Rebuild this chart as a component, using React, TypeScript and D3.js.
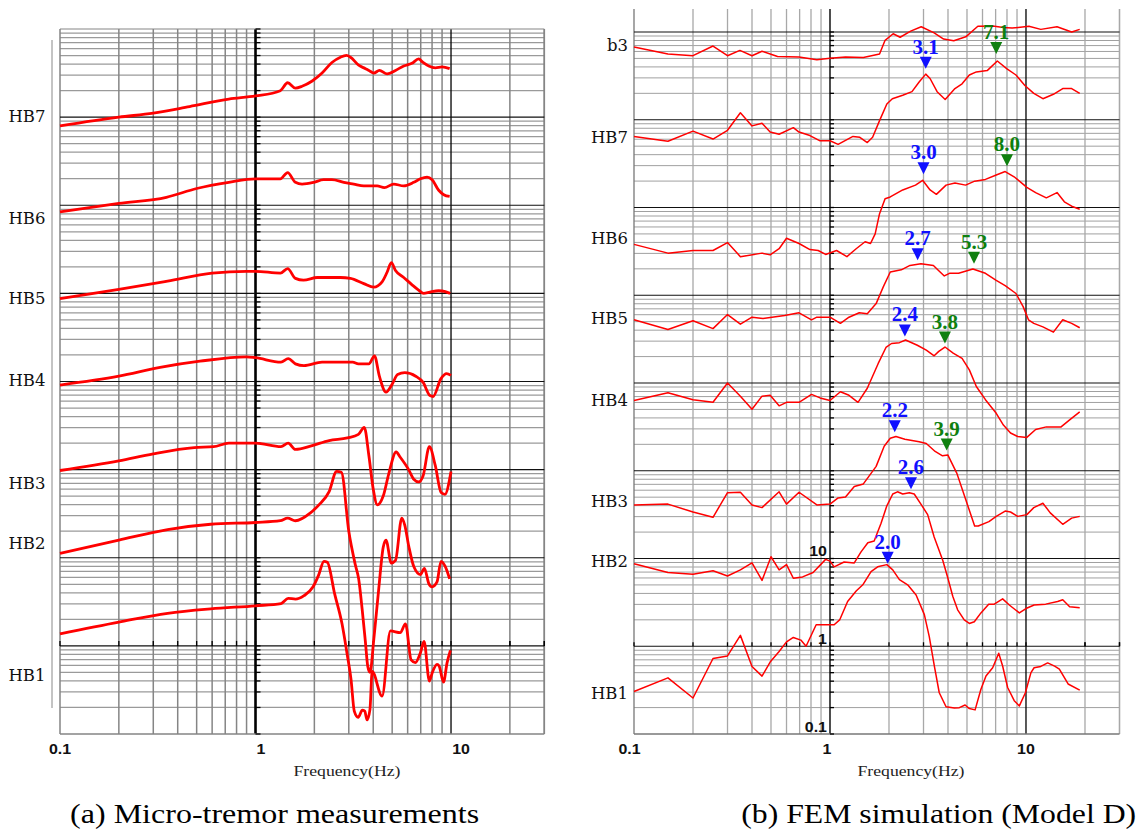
import React from "react";
import * as d3 from "d3";

// each point: [frequency (Hz), log10 of the plotted H/V amplitude]
type Pt = [number, number];

const freqTicks = [0.1, 1, 10];
const freqTickLabels = ["0.1", "1", "10"];
const ampTicksB = [10, 1, 0.1];
const ampTickLabelsB = ["10", "1", "0.1"];

const stationsA = ["HB7", "HB6", "HB5", "HB4", "HB3", "HB2", "HB1"];
const labelLevelA = [6.01, 4.86, 3.95, 3.02, 1.85, 1.17, -0.33];
const stationsB = ["b3", "HB7", "HB6", "HB5", "HB4", "HB3", "HB2", "HB1"];
const labelLevelB = [6.85, 5.8, 4.65, 3.74, 2.81, 1.65, 0.97, -0.53];

// (a) micro-tremor measurements
const aHB7: Pt[] = [[0.1, 5.9], [0.2, 6.0], [0.3, 6.045], [0.46, 6.12], [0.73, 6.205], [1.0, 6.24], [1.34, 6.3], [1.46, 6.39], [1.6, 6.33], [1.73, 6.35], [1.95, 6.41], [2.19, 6.5], [2.46, 6.62], [2.72, 6.68], [2.92, 6.7], [3.06, 6.68], [3.37, 6.59], [3.65, 6.55], [3.8, 6.53], [4.03, 6.5], [4.3, 6.53], [4.71, 6.49], [5.2, 6.53], [5.73, 6.58], [6.31, 6.61], [6.83, 6.66], [7.19, 6.62], [7.69, 6.58], [8.32, 6.56], [9.0, 6.57], [9.84, 6.55]];
const aHB6: Pt[] = [[0.1, 4.925], [0.2, 5.02], [0.35, 5.09], [0.5, 5.19], [0.73, 5.26], [1.0, 5.3], [1.34, 5.3], [1.46, 5.37], [1.6, 5.26], [1.73, 5.24], [1.99, 5.26], [2.23, 5.29], [2.46, 5.29], [2.83, 5.26], [3.18, 5.24], [3.58, 5.22], [4.19, 5.22], [4.56, 5.2], [5.09, 5.24], [5.73, 5.22], [6.45, 5.26], [6.97, 5.3], [7.54, 5.32], [8.0, 5.29], [8.65, 5.17], [9.18, 5.12], [9.84, 5.1]];
const aHB5: Pt[] = [[0.1, 3.94], [0.2, 4.045], [0.355, 4.14], [0.6, 4.23], [0.9, 4.25], [1.0, 4.25], [1.34, 4.23], [1.46, 4.28], [1.6, 4.17], [1.76, 4.15], [2.07, 4.18], [2.72, 4.18], [3.06, 4.17], [3.58, 4.11], [4.03, 4.07], [4.44, 4.13], [4.71, 4.24], [4.95, 4.35], [5.2, 4.26], [5.73, 4.18], [6.3, 4.1], [6.8, 4.04], [7.25, 4.0], [7.8, 4.015], [8.65, 4.03], [9.35, 4.02], [9.9, 4.0]];
const aHB4: Pt[] = [[0.1, 2.96], [0.2, 3.06], [0.325, 3.16], [0.52, 3.23], [0.9, 3.28], [1.0, 3.27], [1.35, 3.22], [1.47, 3.26], [1.6, 3.2], [1.77, 3.18], [2.19, 3.22], [3.14, 3.22], [3.36, 3.2], [3.8, 3.2], [4.06, 3.29], [4.3, 3.06], [4.65, 2.88], [5.0, 2.97], [5.33, 3.08], [5.8, 3.1], [6.6, 3.06], [7.2, 2.99], [7.8, 2.84], [8.1, 2.83], [8.87, 3.03], [9.5, 3.09], [10, 3.07]];
const aHB3: Pt[] = [[0.1, 1.99], [0.2, 2.1], [0.3, 2.18], [0.486, 2.25], [0.61, 2.26], [0.73, 2.3], [1.0, 2.3], [1.35, 2.26], [1.47, 2.3], [1.6, 2.23], [1.93, 2.27], [2.38, 2.33], [2.95, 2.36], [3.36, 2.4], [3.6, 2.48], [3.8, 2.16], [4.0, 1.78], [4.2, 1.6], [4.5, 1.7], [4.8, 1.95], [5.24, 2.2], [5.5, 2.14], [6.07, 2.0], [6.45, 1.89], [6.83, 1.86], [7.2, 1.93], [7.75, 2.26], [8.3, 2.05], [8.9, 1.74], [9.3, 1.72], [10, 1.98]];
const aHB2: Pt[] = [[0.1, 1.05], [0.2, 1.2], [0.355, 1.32], [0.59, 1.38], [1.0, 1.4], [1.34, 1.42], [1.46, 1.45], [1.6, 1.42], [1.91, 1.51], [2.11, 1.6], [2.38, 1.75], [2.6, 1.98], [2.75, 1.97], [3.0, 1.3], [3.24, 0.92], [3.37, 0.76], [3.51, 0.42], [3.65, 0.04], [3.75, -0.23], [3.85, -0.3], [4.03, 0.08], [4.27, 0.65], [4.5, 1.12], [4.65, 1.2], [4.95, 0.94], [5.2, 0.97], [5.6, 1.45], [5.8, 1.37], [6.08, 1.13], [6.45, 0.9], [6.97, 0.81], [7.31, 0.88], [7.69, 0.71], [8.0, 0.67], [8.48, 0.725], [8.89, 0.96], [9.35, 0.9], [9.84, 0.76]];
const aHB1: Pt[] = [[0.1, 0.137], [0.2, 0.27], [0.355, 0.37], [0.59, 0.42], [1.0, 0.455], [1.35, 0.48], [1.47, 0.54], [1.6, 0.53], [1.77, 0.57], [1.97, 0.67], [2.1, 0.8], [2.24, 0.96], [2.33, 0.95], [2.54, 0.59], [2.77, 0.25], [2.95, -0.11], [3.08, -0.38], [3.2, -0.74], [3.35, -0.81], [3.52, -0.73], [3.62, -0.74], [3.72, -0.84], [3.85, -0.72], [3.95, -0.29], [4.44, -0.57], [4.9, 0.17], [5.5, 0.15], [5.85, 0.25], [6.25, -0.16], [6.57, -0.19], [6.97, -0.08], [7.28, 0.05], [7.75, -0.4], [8.0, -0.31], [8.48, -0.21], [8.7, -0.23], [9.15, -0.41], [9.55, -0.19], [9.93, -0.05]];

// (b) FEM simulation (Model D)
const bB3: Pt[] = [[0.1, 6.83], [0.149, 6.75], [0.2, 6.73], [0.253, 6.84], [0.3, 6.73], [0.347, 6.79], [0.4, 6.73], [0.45, 6.78], [0.54, 6.72], [0.695, 6.715], [0.857, 6.685], [1.0, 6.7], [1.2, 6.715], [1.48, 6.71], [1.79, 6.75], [1.91, 6.905], [2.1, 6.98], [2.28, 6.94], [2.58, 7.01], [2.92, 7.06], [3.4, 6.99], [3.8, 6.92], [4.28, 6.9], [4.93, 6.945], [5.68, 7.065], [6.76, 7.068], [7.67, 7.05], [8.5, 7.045], [10.35, 7.065], [11.9, 7.03], [14.4, 7.06], [17.1, 7.0], [18.8, 7.03]];
const bHB7: Pt[] = [[0.1, 5.81], [0.149, 5.755], [0.2, 5.87], [0.253, 5.78], [0.3, 5.88], [0.349, 6.08], [0.4, 5.93], [0.45, 5.96], [0.495, 5.86], [0.55, 5.835], [0.65, 5.91], [0.695, 5.86], [0.79, 5.82], [0.89, 5.76], [1.0, 5.76], [1.1, 5.72], [1.31, 5.81], [1.42, 5.8], [1.55, 5.74], [1.65, 5.8], [1.79, 5.99], [1.95, 6.18], [2.08, 6.24], [2.35, 6.28], [2.62, 6.32], [2.85, 6.43], [3.08, 6.52], [3.24, 6.47], [3.52, 6.32], [3.87, 6.23], [4.34, 6.355], [4.72, 6.41], [5.14, 6.51], [5.58, 6.545], [6.34, 6.56], [7.14, 6.67], [8.0, 6.58], [8.89, 6.51], [9.87, 6.39], [10.96, 6.3], [12.2, 6.24], [13.8, 6.29], [15.4, 6.355], [17.1, 6.355], [18.8, 6.3]];
const bHB6: Pt[] = [[0.1, 4.58], [0.149, 4.48], [0.2, 4.51], [0.253, 4.51], [0.3, 4.6], [0.349, 4.44], [0.45, 4.48], [0.495, 4.46], [0.55, 4.53], [0.6, 4.65], [0.695, 4.59], [0.79, 4.52], [0.87, 4.51], [0.95, 4.465], [1.08, 4.51], [1.22, 4.44], [1.36, 4.53], [1.51, 4.61], [1.61, 4.59], [1.7, 4.7], [1.79, 4.93], [1.91, 5.1], [2.03, 5.12], [2.35, 5.2], [2.73, 5.255], [2.97, 5.31], [3.24, 5.2], [3.49, 5.15], [3.91, 5.255], [4.34, 5.28], [4.92, 5.255], [5.47, 5.3], [6.21, 5.32], [7.05, 5.37], [7.83, 5.41], [8.7, 5.35], [10.1, 5.23], [11.2, 5.17], [12.7, 5.11], [14.4, 5.17], [15.7, 5.065], [17.1, 5.015], [18.8, 4.98]];
const bHB5: Pt[] = [[0.1, 3.72], [0.149, 3.61], [0.2, 3.71], [0.253, 3.62], [0.3, 3.78], [0.349, 3.67], [0.4, 3.75], [0.455, 3.735], [0.587, 3.77], [0.695, 3.8], [0.805, 3.72], [0.857, 3.75], [1.0, 3.75], [1.13, 3.68], [1.25, 3.75], [1.41, 3.8], [1.55, 3.79], [1.72, 3.905], [1.87, 4.095], [2.03, 4.265], [2.31, 4.29], [2.56, 4.34], [2.91, 4.36], [3.37, 4.34], [3.59, 4.28], [3.83, 4.22], [4.07, 4.25], [4.53, 4.25], [5.36, 4.3], [6.21, 4.25], [7.05, 4.17], [7.83, 4.11], [8.89, 4.02], [9.67, 3.87], [10.3, 3.72], [10.96, 3.68], [12.2, 3.64], [13.8, 3.58], [15.4, 3.72], [17.1, 3.68], [18.8, 3.63]];
const bHB4: Pt[] = [[0.1, 2.8], [0.149, 2.89], [0.2, 2.81], [0.253, 2.78], [0.3, 3.0], [0.349, 2.85], [0.4, 2.7], [0.45, 2.85], [0.495, 2.86], [0.55, 2.74], [0.6, 2.78], [0.695, 2.78], [0.805, 2.87], [0.89, 2.83], [1.0, 2.8], [1.13, 2.9], [1.25, 2.86], [1.39, 2.78], [1.55, 2.94], [1.76, 3.22], [1.93, 3.405], [2.06, 3.45], [2.26, 3.46], [2.43, 3.49], [2.79, 3.43], [3.1, 3.375], [3.4, 3.31], [3.59, 3.36], [3.86, 3.41], [4.25, 3.34], [4.72, 3.28], [5.14, 3.15], [5.58, 2.96], [6.21, 2.81], [7.05, 2.655], [7.67, 2.52], [8.34, 2.43], [9.07, 2.39], [10.1, 2.38], [11.2, 2.47], [12.7, 2.5], [15.1, 2.5], [16.7, 2.58], [18.8, 2.67]];
const bHB3: Pt[] = [[0.1, 1.61], [0.149, 1.62], [0.2, 1.53], [0.253, 1.47], [0.3, 1.75], [0.349, 1.755], [0.4, 1.61], [0.45, 1.58], [0.55, 1.76], [0.6, 1.62], [0.695, 1.755], [0.857, 1.61], [1.0, 1.62], [1.1, 1.69], [1.2, 1.7], [1.33, 1.82], [1.48, 1.85], [1.72, 2.05], [1.89, 2.28], [2.03, 2.37], [2.17, 2.39], [2.41, 2.36], [2.85, 2.33], [3.1, 2.31], [3.44, 2.22], [3.75, 2.17], [3.99, 2.18], [4.44, 1.97], [4.93, 1.67], [5.47, 1.37], [5.71, 1.37], [6.47, 1.42], [7.05, 1.48], [7.83, 1.54], [8.34, 1.53], [9.07, 1.48], [10.1, 1.5], [10.96, 1.58], [12.2, 1.63], [13.3, 1.52], [15.4, 1.39], [17.1, 1.46], [18.8, 1.48]];
const bHB2: Pt[] = [[0.1, 0.94], [0.149, 0.84], [0.2, 0.82], [0.253, 0.86], [0.3, 0.8], [0.349, 0.87], [0.4, 0.95], [0.45, 0.75], [0.5, 1.02], [0.55, 0.87], [0.6, 0.93], [0.65, 0.775], [0.725, 0.79], [0.82, 0.84], [0.95, 0.99], [1.0, 0.97], [1.05, 0.905], [1.18, 0.96], [1.33, 0.95], [1.44, 1.075], [1.56, 1.18], [1.68, 1.2], [1.82, 1.4], [1.95, 1.6], [2.09, 1.735], [2.21, 1.76], [2.35, 1.735], [2.54, 1.75], [2.69, 1.735], [2.91, 1.62], [3.15, 1.5], [3.4, 1.245], [3.76, 0.98], [3.98, 0.79], [4.23, 0.57], [4.48, 0.415], [4.84, 0.3], [5.14, 0.26], [5.45, 0.28], [5.89, 0.38], [6.45, 0.48], [6.89, 0.48], [7.6, 0.54], [8.22, 0.47], [9.25, 0.38], [10, 0.43], [11.0, 0.47], [12.6, 0.48], [14.5, 0.51], [15.4, 0.53], [16.7, 0.45], [18.8, 0.44]];
const bHB1: Pt[] = [[0.1, -0.515], [0.149, -0.36], [0.2, -0.59], [0.253, -0.14], [0.3, -0.11], [0.349, 0.124], [0.4, -0.23], [0.45, -0.34], [0.495, -0.18], [0.55, -0.06], [0.6, 0.05], [0.65, 0.1], [0.71, 0.07], [0.755, 0.0], [0.85, 0.245], [1.05, 0.245], [1.12, 0.3], [1.23, 0.51], [1.36, 0.63], [1.47, 0.7], [1.62, 0.85], [1.75, 0.905], [1.95, 0.93], [2.09, 0.87], [2.26, 0.76], [2.49, 0.7], [2.75, 0.585], [3.03, 0.36], [3.21, 0.11], [3.41, -0.23], [3.61, -0.53], [3.91, -0.69], [4.31, -0.705], [4.57, -0.7], [4.89, -0.67], [5.14, -0.71], [5.5, -0.725], [5.89, -0.49], [6.25, -0.34], [6.76, -0.245], [7.26, -0.08], [7.6, -0.225], [8.06, -0.47], [8.71, -0.62], [9.25, -0.68], [9.93, -0.53], [10.6, -0.3], [11.0, -0.245], [11.9, -0.23], [12.9, -0.19], [14.0, -0.226], [14.8, -0.26], [16.4, -0.43], [18.8, -0.5]];

const curvesA = [aHB7, aHB6, aHB5, aHB4, aHB3, aHB2, aHB1];
const curvesB = [bB3, bHB7, bHB6, bHB5, bHB4, bHB3, bHB2, bHB1];

// picked peaks in (b): label, frequency, log10 amplitude of the arrow tip, kind
const peakLabels = ["3.1", "7.1", "3.0", "8.0", "2.7", "5.3", "2.4", "3.8", "2.2", "3.9", "2.6", "2.0"];
const peakFreqs = [3.08, 7.05, 3.0, 8.0, 2.8, 5.43, 2.41, 3.86, 2.14, 3.94, 2.59, 1.97];
const peakLevels = [6.58, 6.75, 5.38, 5.47, 4.4, 4.36, 3.53, 3.45, 2.44, 2.23, 1.79, 0.94];
const peakKinds = ["p", "s", "p", "s", "p", "s", "p", "s", "p", "s", "p", "p"];

const BLUE = "#1010ff";
const GREEN = "#0f800f";
const SX = 1.14; // the source figure's lettering is slightly stretched sideways

const minorValues = d3.range(-1, 7).flatMap((k) => d3.range(2, 10).map((m) => m * Math.pow(10, k)));
const decadeValues = d3.range(-1, 8).map((k) => Math.pow(10, k));
const freqLines = [-1, 0, 1].flatMap((k) => d3.range(1, 10).map((m) => m * Math.pow(10, k))).filter((f) => f <= 30);

const SText = ({ x, y, anchor, size, family, weight, fill, children }: any) => (
  <text
    transform={`translate(${x},${y}) scale(${SX},1)`}
    textAnchor={anchor}
    fontFamily={family}
    fontWeight={weight || "normal"}
    fontSize={size}
    fill={fill}
  >
    {children}
  </text>
);

const Panel = ({ cfg }: { cfg: any }) => {
  const x = d3.scaleLog().domain([0.1, 30]).range([cfg.left, cfg.right]);
  const y = d3.scaleLog().domain([0.1, 1e7]).range([734, cfg.decTop]);
  const line = d3
    .line<Pt>()
    .x((d) => x(d[0]))
    .y((d) => y(Math.pow(10, d[1])))
    .curve(cfg.smooth ? d3.curveMonotoneX : d3.curveLinear);
  const x1 = x(1);

  return (
    <g>
      {minorValues.map((v, i) => (
        <line key={"h" + i} x1={cfg.left} x2={cfg.right} y1={y(v)} y2={y(v)} stroke={cfg.hMinor} strokeWidth={cfg.hMinorW} />
      ))}
      {freqLines.concat([30]).map((f, i) => {
        const major = f === 1 || f === 10;
        return (
          <line
            key={"v" + i}
            x1={x(f)}
            x2={x(f)}
            y1={cfg.gridTop}
            y2={734}
            stroke={major ? "#000" : f === 0.1 ? cfg.border : cfg.vMinor}
            strokeWidth={f === 1 ? cfg.oneW : major ? 1.3 : cfg.vMinorW}
          />
        );
      })}
      {decadeValues.map((v, i) => (
        <line
          key={"d" + i}
          x1={cfg.left}
          x2={cfg.right}
          y1={y(v)}
          y2={y(v)}
          stroke={v === 0.1 || (v === 1e7 && !cfg.topBlack) ? cfg.border : "#111"}
          strokeWidth={v === 0.1 ? 1.6 : 1.1}
        />
      ))}
      {/* ticks along the 1 Hz axis */}
      {minorValues.concat(decadeValues).map((v, i) => (
        <line key={"t" + i} x1={x1} x2={x1 + cfg.tickLen} y1={y(v)} y2={y(v)} stroke="#000" strokeWidth={1.3} />
      ))}
      {/* ticks along the amplitude = 1 line */}
      {freqLines.concat([20, 30]).map((f, i) => (
        <line key={"xt" + i} x1={x(f)} x2={x(f)} y1={y(1)} y2={y(1) - cfg.tickLen} stroke="#000" strokeWidth={1.3} />
      ))}

      {cfg.curves.map((c: Pt[], i: number) => (
        <path key={"c" + i} d={line(c) || ""} fill="none" stroke="#ff0000" strokeWidth={cfg.curveW} strokeLinejoin="round" />
      ))}

      {cfg.stations.map((s: string, i: number) => (
        <text key={"s" + i} x={cfg.labelX} y={y(Math.pow(10, cfg.levels[i])) + 6} textAnchor="end" fontFamily="DejaVu Serif" fontSize={16.5} fill="#111">
          {s}
        </text>
      ))}

      {freqTicks.map((f, i) => (
        <SText key={"xl" + i} x={x(f) + cfg.tickDx[i]} y={754} anchor="middle" size={14} family="Liberation Sans, Arial, sans-serif" weight="bold" fill="#111">
          {freqTickLabels[i]}
        </SText>
      ))}
      <text x={cfg.freqLabelX} y={776} textAnchor="middle" fontFamily="Liberation Serif" fontSize={15} fill="#222" textLength={107} lengthAdjust="spacingAndGlyphs">
        Frequency(Hz)
      </text>

      {cfg.yLabels &&
        ampTicksB.map((v, i) => (
          <SText key={"yl" + i} x={x1 - 3} y={y(v) - 2.5} anchor="end" size={14} family="Liberation Sans, Arial, sans-serif" weight="bold" fill="#111">
            {ampTickLabelsB[i]}
          </SText>
        ))}

      {cfg.peaks &&
        peakLabels.map((lab, i) => {
          const px = x(peakFreqs[i]);
          const py = y(Math.pow(10, peakLevels[i]));
          const col = peakKinds[i] === "p" ? BLUE : GREEN;
          return (
            <g key={"p" + i}>
              <path d={`M${px - 6},${py - 12}L${px + 6},${py - 12}L${px},${py}Z`} fill={col} />
              <text x={px} y={py - 15} textAnchor="middle" fontFamily="Liberation Serif" fontWeight="bold" fontSize={21} fill={col}>
                {lab}
              </text>
            </g>
          );
        })}

      {cfg.bracket && <line x1={52} x2={52} y1={40} y2={708} stroke="#888" strokeWidth={1} />}

      <text x={cfg.captionX} y={823} textAnchor="middle" fontFamily="Liberation Serif" fontSize={27} fill="#000" textLength={cfg.captionW} lengthAdjust="spacingAndGlyphs">
        {cfg.caption}
      </text>
    </g>
  );
};

const panelA = {
  left: 60,
  right: 544.3,
  decTop: 29,
  gridTop: 29,
  curves: curvesA,
  stations: stationsA,
  levels: labelLevelA,
  labelX: 45.5,
  smooth: true,
  curveW: 2.8,
  hMinor: "#9a9a9a",
  hMinorW: 1.3,
  vMinor: "#858585",
  vMinorW: 1.5,
  border: "#858585",
  oneW: 2.6,
  tickLen: 5,
  topBlack: false,
  tickDx: [0, 5.5, 10],
  freqLabelX: 347,
  yLabels: false,
  peaks: false,
  bracket: true,
  caption: "(a) Micro-tremor measurements",
  captionX: 274.6,
  captionW: 409,
};

const panelB = {
  left: 634,
  right: 1119.5,
  decTop: 32,
  gridTop: 9,
  curves: curvesB,
  stations: stationsB,
  levels: labelLevelB,
  labelX: 628,
  smooth: false,
  curveW: 1.5,
  hMinor: "#a0a0a0",
  hMinorW: 1,
  vMinor: "#a8a8a8",
  vMinorW: 1.3,
  border: "#777",
  oneW: 1.4,
  tickDx: [-4.5, -3, 0],
  freqLabelX: 911,
  tickLen: 4,
  topBlack: true,
  yLabels: true,
  peaks: true,
  bracket: false,
  caption: "(b) FEM simulation (Model D)",
  captionX: 938.7,
  captionW: 395,
};

export default function App() {
  return (
    <svg width={1143} height={834} style={{ position: "absolute", left: 0, top: 0, background: "#fff" }}>
      <rect width={1143} height={834} fill="#fff" />
      <Panel cfg={panelA} />
      <Panel cfg={panelB} />
    </svg>
  );
}
